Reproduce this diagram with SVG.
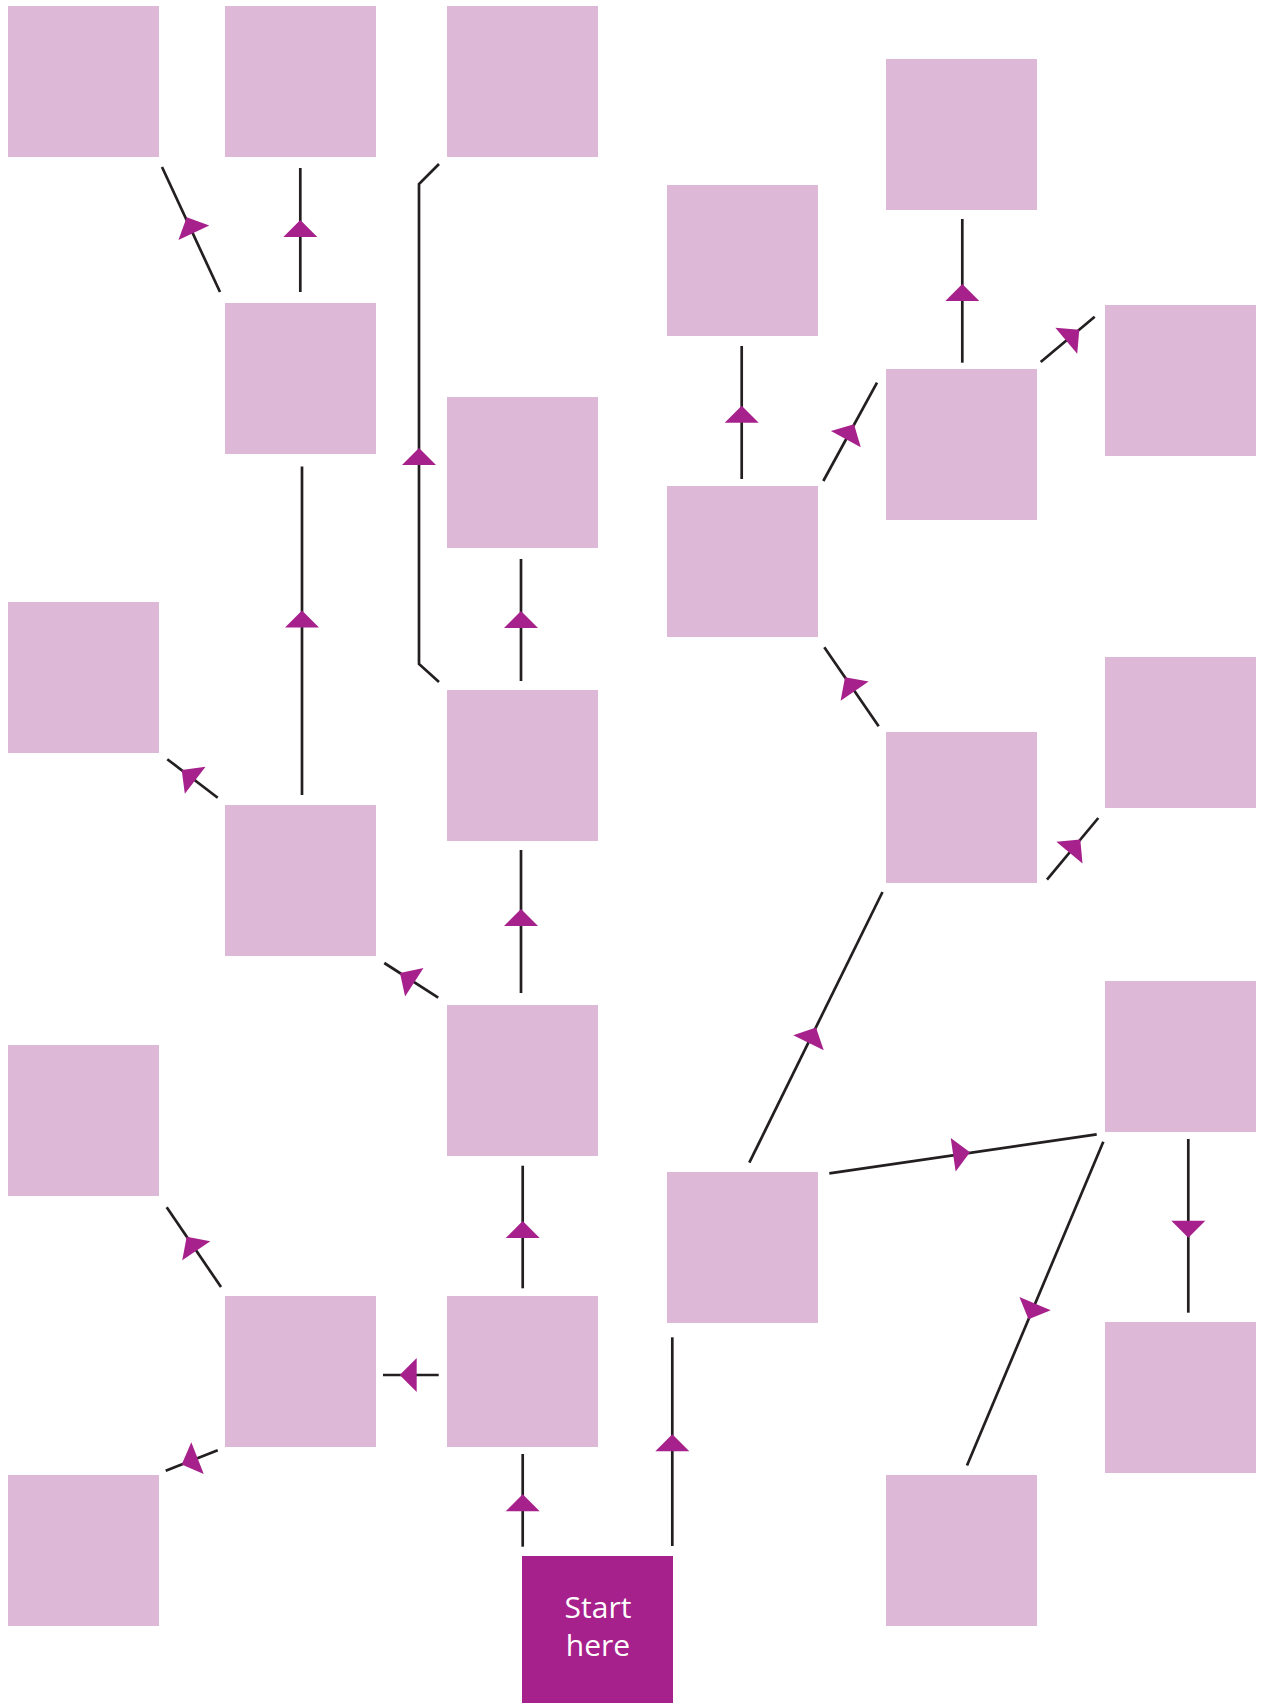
<svg xmlns="http://www.w3.org/2000/svg" width="1270" height="1703" viewBox="0 0 1270 1703">
<style>
.box{fill:#DEB8D7}
.start{fill:#A7218C}
.ln{fill:none;stroke:#231F20;stroke-width:2.7}
.ah{fill:#A7218C}
.lbl{font-family:"Open Sans","Noto Sans",sans-serif;font-size:30px;fill:#FFFFFF;text-anchor:middle}
</style>
<defs>
<polygon id="tri" points="0,0 -17,-17 -17,17"/>
</defs>
<rect width="1270" height="1703" fill="#FFFFFF"/>
<g id="nodes">
<g id="n1"><rect class="box" x="8" y="6" width="151" height="151"/></g>
<g id="n2"><rect class="box" x="225" y="6" width="151" height="151"/></g>
<g id="n3"><rect class="box" x="447" y="6" width="151" height="151"/></g>
<g id="n4"><rect class="box" x="667" y="185" width="151" height="151"/></g>
<g id="n5"><rect class="box" x="886" y="59" width="151" height="151"/></g>
<g id="n6"><rect class="box" x="225" y="303" width="151" height="151"/></g>
<g id="n7"><rect class="box" x="447" y="397" width="151" height="151"/></g>
<g id="n8"><rect class="box" x="1105" y="305" width="151" height="151"/></g>
<g id="n9"><rect class="box" x="886" y="369" width="151" height="151"/></g>
<g id="n10"><rect class="box" x="667" y="486" width="151" height="151"/></g>
<g id="n11"><rect class="box" x="8" y="602" width="151" height="151"/></g>
<g id="n12"><rect class="box" x="447" y="690" width="151" height="151"/></g>
<g id="n13"><rect class="box" x="886" y="732" width="151" height="151"/></g>
<g id="n14"><rect class="box" x="1105" y="657" width="151" height="151"/></g>
<g id="n15"><rect class="box" x="225" y="805" width="151" height="151"/></g>
<g id="n16"><rect class="box" x="447" y="1005" width="151" height="151"/></g>
<g id="n17"><rect class="box" x="1105" y="981" width="151" height="151"/></g>
<g id="n18"><rect class="box" x="8" y="1045" width="151" height="151"/></g>
<g id="n19"><rect class="box" x="667" y="1172" width="151" height="151"/></g>
<g id="n20"><rect class="box" x="225" y="1296" width="151" height="151"/></g>
<g id="n21"><rect class="box" x="447" y="1296" width="151" height="151"/></g>
<g id="n22"><rect class="box" x="1105" y="1322" width="151" height="151"/></g>
<g id="n23"><rect class="box" x="8" y="1475" width="151" height="151"/></g>
<g id="n24"><rect class="box" x="886" y="1475" width="151" height="151"/></g>
<g id="start"><rect class="start" x="522" y="1556" width="151" height="151"/>
<text class="lbl" x="598" y="1618">Start</text>
<text class="lbl" x="598" y="1656">here</text></g>
</g>
<g id="connectors">
<line class="ln" x1="220" y1="292" x2="162" y2="167"/>
<use href="#tri" class="ah" transform="translate(186.7,217.3) rotate(-114.9)"/>
<line class="ln" x1="300.3" y1="292" x2="300.3" y2="168"/>
<use href="#tri" class="ah" transform="translate(300.3,220) rotate(-90)"/>
<path class="ln" d="M439,682 L419,664 L419,184 L439,164"/>
<use href="#tri" class="ah" transform="translate(419,448) rotate(-90)"/>
<line class="ln" x1="521" y1="681" x2="521" y2="559"/>
<use href="#tri" class="ah" transform="translate(521,611) rotate(-90)"/>
<line class="ln" x1="302" y1="795" x2="302" y2="466.5"/>
<use href="#tri" class="ah" transform="translate(302,610.5) rotate(-90)"/>
<line class="ln" x1="217.7" y1="797.8" x2="167.3" y2="759.2"/>
<use href="#tri" class="ah" transform="translate(181.7,770) rotate(-142.5)"/>
<line class="ln" x1="521" y1="993" x2="521" y2="850"/>
<use href="#tri" class="ah" transform="translate(521,909) rotate(-90)"/>
<line class="ln" x1="438.2" y1="997.7" x2="384.3" y2="963"/>
<use href="#tri" class="ah" transform="translate(400,973) rotate(-147.2)"/>
<line class="ln" x1="749.3" y1="1162.7" x2="882.5" y2="892"/>
<use href="#tri" class="ah" transform="translate(816,1027.5) rotate(-63.8)"/>
<line class="ln" x1="829.3" y1="1173.3" x2="1096.7" y2="1134.3"/>
<use href="#tri" class="ah" transform="translate(970,1152.3) rotate(-8.3)"/>
<line class="ln" x1="1103.3" y1="1141.7" x2="967" y2="1465.5"/>
<use href="#tri" class="ah" transform="translate(1028.5,1319.3) rotate(112.8)"/>
<line class="ln" x1="1188.3" y1="1139" x2="1188.3" y2="1312.7"/>
<use href="#tri" class="ah" transform="translate(1188.3,1237.7) rotate(90)"/>
<line class="ln" x1="878.7" y1="726.3" x2="824.3" y2="647.3"/>
<use href="#tri" class="ah" transform="translate(845,677.2) rotate(-124.55)"/>
<line class="ln" x1="1047" y1="879.7" x2="1098.3" y2="818"/>
<use href="#tri" class="ah" transform="translate(1080.3,839.5) rotate(-50.26)"/>
<line class="ln" x1="823.3" y1="481" x2="877" y2="382.7"/>
<use href="#tri" class="ah" transform="translate(854,424.3) rotate(-61.35)"/>
<line class="ln" x1="962.3" y1="362.7" x2="962.3" y2="219"/>
<use href="#tri" class="ah" transform="translate(962.3,284) rotate(-90)"/>
<line class="ln" x1="1040.7" y1="362" x2="1094.7" y2="316.7"/>
<use href="#tri" class="ah" transform="translate(1079.3,329.8) rotate(-40)"/>
<line class="ln" x1="741.7" y1="479" x2="741.7" y2="346"/>
<use href="#tri" class="ah" transform="translate(741.7,405.7) rotate(-90)"/>
<line class="ln" x1="221" y1="1287" x2="166.7" y2="1207.3"/>
<use href="#tri" class="ah" transform="translate(186.7,1236.7) rotate(-124.3)"/>
<line class="ln" x1="438.7" y1="1375" x2="383" y2="1375"/>
<use href="#tri" class="ah" transform="translate(399.7,1375) rotate(180)"/>
<line class="ln" x1="217.7" y1="1450.3" x2="165.7" y2="1470.7"/>
<use href="#tri" class="ah" transform="translate(181.7,1464.4) rotate(158.6)"/>
<line class="ln" x1="522.7" y1="1288.3" x2="522.7" y2="1165.7"/>
<use href="#tri" class="ah" transform="translate(522.7,1221) rotate(-90)"/>
<line class="ln" x1="522.7" y1="1546.7" x2="522.7" y2="1454"/>
<use href="#tri" class="ah" transform="translate(522.7,1494.3) rotate(-90)"/>
<line class="ln" x1="672.3" y1="1546" x2="672.3" y2="1337.3"/>
<use href="#tri" class="ah" transform="translate(672.3,1434.3) rotate(-90)"/>
</g>
</svg>
